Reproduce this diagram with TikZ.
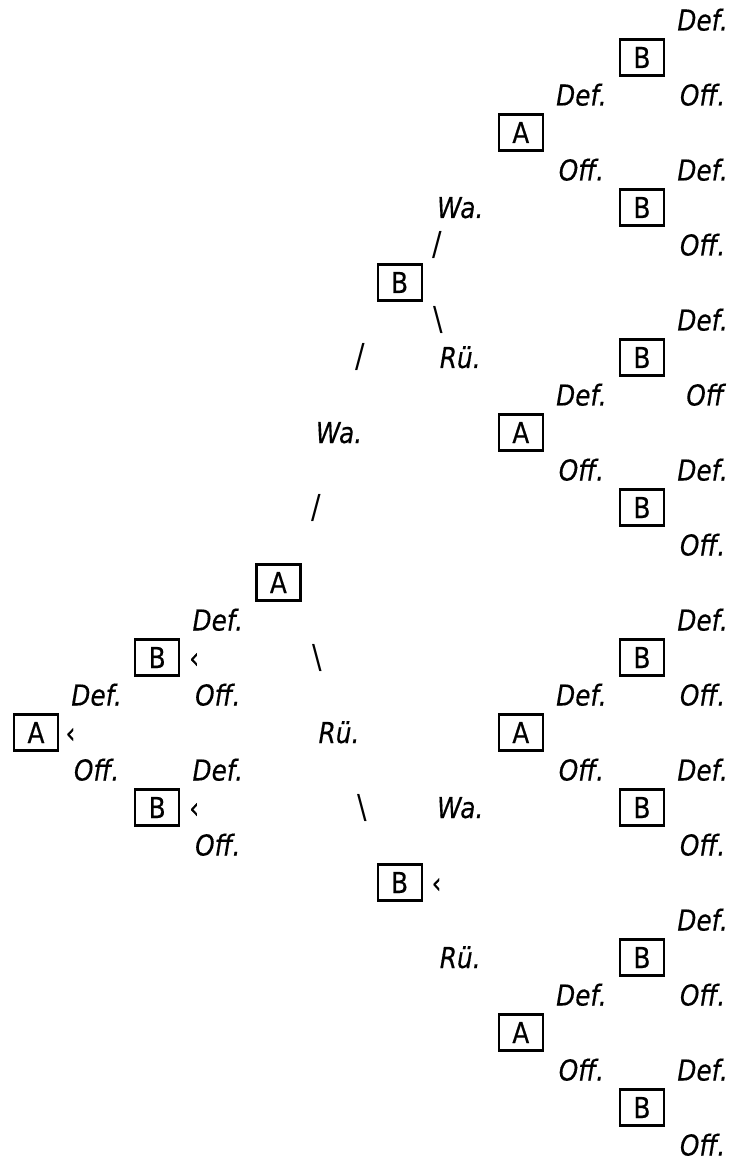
\documentclass[tikz,border=0pt]{standalone}
\usepackage{fontspec}
\setmainfont{DejaVu Sans}[FakeStretch=0.86,FakeBold=0.4]
\newfontfamily\slashfont{DejaVu Sans}[FakeStretch=0.86]
\usepackage{tikz}

\begin{document}
\begin{tikzpicture}[x=30.3pt,y=18.75pt]
	\tikzstyle{pnode}=[draw, shape=rectangle, line width=1.1pt, minimum width=22pt, minimum height=18pt, inner sep=0pt, text height=10.5pt, text depth=0pt, font=\fontsize{14.4}{17}\selectfont];
	\tikzstyle{lnode}=[inner sep=0pt, text height=10.5pt, text depth=0pt, font=\fontsize{14.4}{17}\selectfont\itshape];
	\tikzstyle{snode}=[inner sep=0pt, text height=10.5pt, text depth=0pt, font=\fontsize{14.4}{17}\selectfont];
	\tikzstyle{slnode}=[inner sep=0pt, font=\slashfont\fontsize{16.5}{18}\selectfont];

	\useasboundingbox (-0.594,0.533) rectangle (11.518,-30.4);

	% players
	\node[pnode] (a0) at (0,-19) {A};
	\node[pnode] (b1) at (2,-17) {B};
	\node[pnode] (b2) at (2,-21) {B};
	\node[pnode] (a3) at (4,-15) {A};
	\node[pnode] (b4) at (6,-7) {B};
	\node[pnode] (b5) at (6,-23) {B};
	\node[pnode] (a6) at (8,-3) {A};
	\node[pnode] (a7) at (8,-11) {A};
	\node[pnode] (a8) at (8,-19) {A};
	\node[pnode] (a9) at (8,-27) {A};
	\node[pnode] (b10) at (10,-1) {B};
	\node[pnode] (b11) at (10,-5) {B};
	\node[pnode] (b12) at (10,-9) {B};
	\node[pnode] (b13) at (10,-13) {B};
	\node[pnode] (b14) at (10,-17) {B};
	\node[pnode] (b15) at (10,-21) {B};
	\node[pnode] (b16) at (10,-25) {B};
	\node[pnode] (b17) at (10,-29) {B};

	% moves
	\node[lnode] (d1) at (1,-18) {Def.};
	\node[lnode] (o1) at (1,-20) {Off.};
	\node[lnode] (d2) at (3,-16) {Def.};
	\node[lnode] (o2) at (3,-18) {Off.};
	\node[lnode] (d3) at (3,-20) {Def.};
	\node[lnode] (o3) at (3,-22) {Off.};
	\node[lnode] (w1) at (5,-11) {Wa.};
	\node[lnode] (r1) at (5,-19) {Rü.};
	\node[lnode] (w2) at (7,-5) {Wa.};
	\node[lnode] (r2) at (7,-9) {Rü.};
	\node[lnode] (w3) at (7,-21) {Wa.};
	\node[lnode] (r3) at (7,-25) {Rü.};
	\node[lnode] (d4) at (9,-2) {Def.};
	\node[lnode] (o4) at (9,-4) {Off.};
	\node[lnode] (d5) at (9,-10) {Def.};
	\node[lnode] (o5) at (9,-12) {Off.};
	\node[lnode] (d6) at (9,-18) {Def.};
	\node[lnode] (o6) at (9,-20) {Off.};
	\node[lnode] (d7) at (9,-26) {Def.};
	\node[lnode] (o7) at (9,-28) {Off.};

	\node[lnode] (e0) at (11,0) {Def.};
	\node[lnode] (e1) at (11,-2) {Off.};
	\node[lnode] (e2) at (11,-4) {Def.};
	\node[lnode] (e3) at (11,-6) {Off.};
	\node[lnode] (e4) at (11,-8) {Def.};
	\node[lnode] (e5) at (11.04,-10) {Off};
	\node[lnode] (e6) at (11,-12) {Def.};
	\node[lnode] (e7) at (11,-14) {Off.};
	\node[lnode] (e8) at (11,-16) {Def.};
	\node[lnode] (e9) at (11,-18) {Off.};
	\node[lnode] (e10) at (11,-20) {Def.};
	\node[lnode] (e11) at (11,-22) {Off.};
	\node[lnode] (e12) at (11,-24) {Def.};
	\node[lnode] (e13) at (11,-26) {Off.};
	\node[lnode] (e14) at (11,-28) {Def.};
	\node[lnode] (e15) at (11,-30) {Off.};

	% branch marks
	\node[snode] (k0) at (0.57,-19) {‹};
	\node[snode] (k1) at (2.61,-17) {‹};
	\node[snode] (k2) at (2.61,-21) {‹};
	\node[snode] (k5) at (6.61,-23) {‹};
	\node[slnode] (s1) at (4.62,-13) {/};
	\node[slnode] (s2) at (4.64,-17) {\textbackslash};
	\node[slnode] (s3) at (5.35,-9) {/};
	\node[slnode] (s4) at (5.38,-21) {\textbackslash};
	\node[slnode] (s5) at (6.62,-6) {/};
	\node[slnode] (s6) at (6.63,-8) {\textbackslash};

\end{tikzpicture}
\end{document}
